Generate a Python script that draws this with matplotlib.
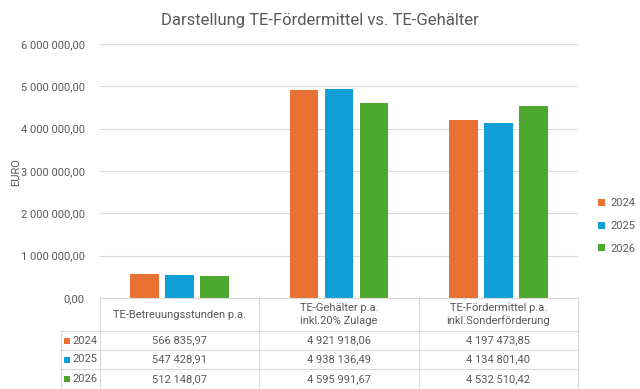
import matplotlib.pyplot as plt
import numpy as np

plt.rcParams['font.family'] = ['Roboto', 'DejaVu Sans']

# Daten
kategorien = ['TE-Betreuungsstunden p.a.',
              'TE-Gehälter p.a.\ninkl.20% Zulage',
              'TE-Fördermittel p.a.\ninkl.Sonderförderung']
jahre = ['2024', '2025', '2026']
werte_2024 = [566835.97, 4921918.06, 4197473.85]
werte_2025 = [547428.91, 4938136.49, 4134801.40]
werte_2026 = [512148.07, 4595991.67, 4532510.42]
y_ticks = [0, 1000000, 2000000, 3000000, 4000000, 5000000, 6000000]

farben = ['#E97132', '#0F9ED5', '#4EA72E']
grau = '#595959'
linie = '#D9D9D9'


def fmt(v):
    s = f'{v:,.2f}'
    return s.replace(',', ' ').replace('.', ',')


W, H = 640, 389
fig = plt.figure(figsize=(W / 100, H / 100), dpi=100)

# Diagrammbereich in Pixeln
x0, x1, y_top, y_null = 100, 578, 44, 298
ax = fig.add_axes([x0 / W, 1 - y_null / H, (x1 - x0) / W, (y_null - y_top) / H])

x = np.arange(len(kategorien))
breite = 0.18
versatz = 0.22
serien = [werte_2024, werte_2025, werte_2026]
for i, (werte, jahr) in enumerate(zip(serien, jahre)):
    ax.bar(x + (i - 1) * versatz, werte, breite, color=farben[i], label=jahr, zorder=3)

ax.set_xlim(-0.5, len(kategorien) - 0.5)
ax.set_ylim(0, 6000000)
ax.set_yticks(y_ticks)
ax.set_yticklabels([fmt(v) for v in y_ticks], color=grau, fontsize=8)
ax.set_xticks([])
ax.tick_params(axis='y', length=0, pad=11)
ax.grid(axis='y', color=linie, linewidth=0.8, zorder=0)
for s in ax.spines.values():
    s.set_visible(False)

fig.text(16 / W, 1 - 172 / H, 'EURO', rotation=90, ha='center', va='center',
         color=grau, fontsize=8)
fig.text(0.5, 1 - 21 / H, 'Darstellung TE-Fördermittel vs. TE-Gehälter',
         ha='center', va='center', fontsize=12, color=grau)

ax.legend(loc='center left', bbox_to_anchor=(588 / W, 1 - 226 / H),
          bbox_transform=fig.transFigure, frameon=False, fontsize=8,
          handlelength=0.6, handleheight=0.6, handletextpad=0.5,
          labelspacing=1.15, labelcolor=grau)

# Datentabelle unter dem Diagramm
tx0 = 60
tax = fig.add_axes([tx0 / W, 0, (x1 - tx0) / W, (H - y_null) / H])
tax.set_xlim(tx0, x1)
tax.set_ylim(H, y_null)
tax.axis('off')

zeilen = [y_null, 331, 350, 369, 389]
spalten = [x0 + (x1 - x0) * k / 3 for k in range(4)]
lw = 0.8
tax.plot([x0, x1], [y_null, y_null], color=linie, lw=lw, clip_on=False)
for yy in zeilen[1:]:
    tax.plot([tx0, x1], [yy - 0.5, yy - 0.5], color=linie, lw=lw, clip_on=False)
for xx in spalten:
    tax.plot([xx, xx], [y_null, H], color=linie, lw=lw, clip_on=False)
tax.plot([tx0 + 0.5, tx0 + 0.5], [zeilen[1], H], color=linie, lw=lw, clip_on=False)

for k, kat in enumerate(kategorien):
    tax.text((spalten[k] + spalten[k + 1]) / 2, (zeilen[0] + zeilen[1]) / 2, kat,
             ha='center', va='center', fontsize=8, color=grau, linespacing=1.3)

for r, (werte, jahr) in enumerate(zip(serien, jahre)):
    yc = (zeilen[r + 1] + zeilen[r + 2]) / 2
    tax.scatter([66.5], [yc], marker='s', s=18, color=farben[r], linewidths=0,
                clip_on=False)
    tax.text(72, yc, jahr, ha='left', va='center', fontsize=8, color=grau)
    for k, v in enumerate(werte):
        tax.text((spalten[k] + spalten[k + 1]) / 2, yc, fmt(v),
                 ha='center', va='center', fontsize=8, color=grau)

fig.savefig('out.png', dpi=100)
